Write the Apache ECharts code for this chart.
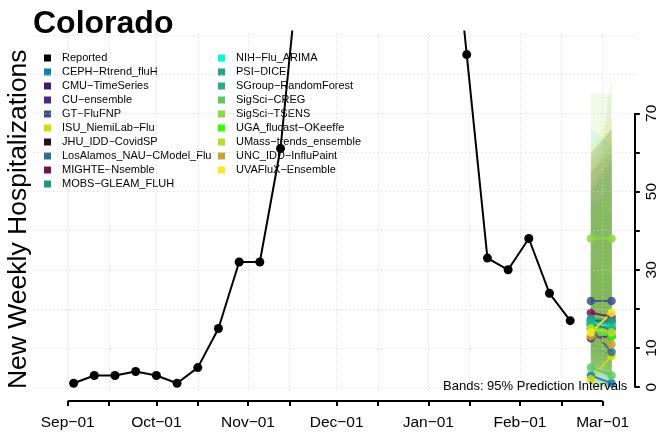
<!DOCTYPE html>
<html><head><meta charset="utf-8">
<script src="https://cdn.jsdelivr.net/npm/echarts@6/dist/echarts.min.js"></script>
<style>html,body{margin:0;padding:0;background:#fff}#c{width:656px;height:435px}</style>
</head><body><div id="c"></div>
<script>
// ---------- data ----------
const reportedDates = ['2022-09-03','2022-09-10','2022-09-17','2022-09-24','2022-10-01','2022-10-08','2022-10-15','2022-10-22','2022-10-29','2022-11-05','2022-11-12','2022-11-19','2022-11-26','2022-12-03','2022-12-10','2022-12-17','2022-12-24','2022-12-31','2023-01-07','2023-01-14','2023-01-21','2023-01-28','2023-02-04','2023-02-11','2023-02-18'];
const reportedValues = [1,3,3,4,3,1,5,15,32,32,61,114,190,260,290,270,230,190,137,85,33,30,38,24,17];

const forecastDates = ['2023-02-25','2023-03-04'];
const models = ['CEPH-Rtrend_fluH','CMU-TimeSeries','CU-ensemble','GT-FluFNP','ISU_NiemiLab-Flu','JHU_IDD-CovidSP','LosAlamos_NAU-CModel_Flu','MIGHTE-Nsemble','MOBS-GLEAM_FLUH','NIH-Flu_ARIMA','PSI-DICE','SGroup-RandomForest','SigSci-CREG','SigSci-TSENS','UGA_flucast-OKeeffe','UMass-trends_ensemble','UNC_IDD-InfluPaint','UVAFluX-Ensemble'];
const modelColors = ['#0B7CB5','#4C1772','#482A7E','#3E4C8A','#D2DD00','#2B0D26','#2F6C8E','#7A0F5C','#1F968B','#00FFCC','#20A386','#29AF7F','#5EC962','#8BD646','#33FF00','#B5DE2B','#C5A62A','#FDE725'];
const pointH1 = [3,17,12.5,22,2,16,15,19,17,16.5,17.5,16,5,38,15,15,13,14];
const pointH2 = [1,17,13,22,8,15,9,18,16,15.5,17,15,3,38,13,14,11,19];
const lowerH1 = [0,7,4,10,0,5,6,9,8,2,6,6,0,12,5,6,2,4];
const upperH1 = [30,50,45,55,25,60,48,55,52,66,58,50,40,75,45,56,60,62];
const lowerH2 = [0,5,3,8,0,3,2,7,6,0,4,4,0,8,2,4,0,4];
const upperH2 = [28,58,52,62,40,66,44,60,58,62,66,56,80,75,50,64,66,70];

const xTickDates = ['2022-09-01','2022-09-15','2022-10-01','2022-10-15','2022-11-01','2022-11-15','2022-12-01','2022-12-15','2023-01-01','2023-01-15','2023-02-01','2023-02-15','2023-03-01'];
const xLabelDates = ['2022-09-01','2022-10-01','2022-11-01','2022-12-01','2023-01-01','2023-02-01','2023-03-01'];
const yTickValues = [0,10,20,30,40,50,60,70];
const yLabelValues = [0,10,30,50,70];
const yGridValues = [0,10,20,30,40,50,60,70,80,90];
const monthAbbr = ['Jan','Feb','Mar','Apr','May','Jun','Jul','Aug','Sep','Oct','Nov','Dec'];

// ---------- helpers ----------
const DAY = 86400000;
const ORIGIN = Date.UTC(2022,8,1);
function day(s){const p=s.split('-').map(Number);return Math.round((Date.UTC(p[0],p[1]-1,p[2])-ORIGIN)/DAY);}
function dayLabel(v){const d=new Date(ORIGIN+Math.round(v)*DAY);return monthAbbr[d.getUTCMonth()]+'\u2212'+String(d.getUTCDate()).padStart(2,'0');}
function rgba(hex,a){const n=parseInt(hex.slice(1),16);return 'rgba('+((n>>16)&255)+','+((n>>8)&255)+','+(n&255)+','+a+')';}
const MINUS='\u2212';

const xMin = day('2022-09-01') - 11.64;
const xMax = day('2023-03-01') + 10.69;
const yMin = -3.53, yMax = 90.9;
const axisY = yMin;
const t1 = day(forecastDates[0]), t2 = day(forecastDates[1]);

const chart = echarts.init(document.getElementById('c'), null, {renderer:'canvas'});

const bandData = models.map((m,i)=>[t1, lowerH1[i], upperH1[i], t2, lowerH2[i], upperH2[i], i]);

const series = [];
series.push({
  type:'line', name:'_grid', data:[], z:1, silent:true, clip:false,
  markLine:{
    silent:true, symbol:['none','none'], animation:false, label:{show:false},
    emphasis:{disabled:true},
    lineStyle:{color:'#D3D3D3', type:[1,3], width:1},
    data: yGridValues.map(v=>({yAxis:v})).concat(
      xTickDates.map(d=>[{coord:[day(d), -0.7]},{coord:[day(d), 90.5]}]))
  }
});
series.push({
  type:'custom', name:'_bands', z:2, clip:true, silent:true,
  dimensions:['t1','lo1','hi1','t2','lo2','hi2','idx'],
  encode:{x:[0,3], y:[1,2,4,5]},
  data: bandData,
  renderItem:(params, api)=>{
    const i = api.value(6);
    const a = api.coord([api.value(0), api.value(1)]);
    const b = api.coord([api.value(3), api.value(4)]);
    const c = api.coord([api.value(3), api.value(5)]);
    const d = api.coord([api.value(0), api.value(2)]);
    return {type:'polygon', shape:{points:[a,b,c,d]}, style:{fill: rgba(modelColors[i],0.12)}};
  }
});
models.forEach((m,i)=>{
  series.push({
    type:'line', name:m, z:4,
    data:[[t1, pointH1[i]],[t2, pointH2[i]]],
    symbol:'circle', symbolSize:8.5, showSymbol:true,
    color: modelColors[i],
    lineStyle:{width:2, color: modelColors[i], opacity:0.85},
    itemStyle:{color: modelColors[i], opacity:0.85}
  });
});
series.push({
  type:'line', name:'Reported', z:5, clip:true,
  data: reportedDates.map((d,i)=>[day(d), reportedValues[i]]),
  symbol:'circle', symbolSize:9, showSymbol:true, showAllSymbol:true,
  color:'#000',
  lineStyle:{width:2, color:'#000'},
  itemStyle:{color:'#000'}
});
series.push({
  type:'line', name:'_axes', data:[], z:6, silent:true, clip:false,
  markLine:{
    silent:true, symbol:['none','none'], animation:false, label:{show:false},
    emphasis:{disabled:true},
    lineStyle:{color:'#000', type:'solid', width:2},
    data:[
      [{coord:[day(xTickDates[0]), axisY]},{coord:[day(xTickDates[xTickDates.length-1]), axisY]}],
      [{coord:[xMax, yTickValues[0]]},{coord:[xMax, yTickValues[yTickValues.length-1]]}]
    ]
  }
});

function legendItems(names){
  return names.map(n=>{
    const i = models.indexOf(n);
    return {name:n, icon:'rect', itemStyle:{color: i<0 ? '#000' : modelColors[i], opacity:1, borderWidth:0}};
  });
}

const legendCommon = {
  orient:'vertical', padding:0, itemGap:0, itemWidth:7, itemHeight:7, icon:'rect',
  itemStyle:{opacity:1, borderWidth:0},
  lineStyle:{width:0, opacity:0},
  textStyle:{fontSize:11, color:'#000', lineHeight:14, padding:[0,0,0,6], fontFamily:'Liberation Sans'},
  formatter: n => n.replace(/-/g, MINUS),
  selectedMode:false
};

const option = {
  animation:false,
  backgroundColor:'#fff',
  textStyle:{fontFamily:'Liberation Sans'},
  title:[
    {text:'Colorado', left:33, top:8.5, padding:0,
     textStyle:{fontSize:32, fontWeight:'bold', color:'#000', lineHeight:32, fontFamily:'Liberation Sans'}},
    {text:'Bands: 95% Prediction Intervals', right:28.7, top:380, padding:0, z:10,
     textStyle:{fontSize:13, fontWeight:'normal', color:'#000', lineHeight:13, fontFamily:'Liberation Sans'}}
  ],
  legend:[
    Object.assign({left:44, top:51, data:legendItems(['Reported'].concat(models.slice(0,9)))}, legendCommon),
    Object.assign({left:218, top:51, data:legendItems(models.slice(9))}, legendCommon)
  ],
  grid:{left:33.3, right:21.7, top:31.5, bottom:34, containLabel:false, outerBoundsMode:'none'},
  xAxis:{
    type:'value', min:xMin, max:xMax,
    axisLine:{show:false, onZero:false},
    splitLine:{show:false},
    axisTick:{show:true, customValues: xTickDates.map(day), length:5, lineStyle:{color:'#000', width:2}},
    axisLabel:{show:true, customValues: xLabelDates.map(day), margin:14, fontSize:15.5, lineHeight:16, color:'#000',
      fontFamily:'Liberation Sans', formatter: v => dayLabel(v)}
  },
  yAxis:[
    {type:'value', position:'right', min:yMin, max:yMax,
     axisLine:{show:false, onZero:false}, splitLine:{show:false},
     axisTick:{show:true, customValues:yTickValues, length:5.5, lineStyle:{color:'#000', width:2}},
     axisLabel:{show:true, customValues:yLabelValues, rotate:90, margin:9, fontSize:15.5, lineHeight:16, color:'#000', fontFamily:'Liberation Sans'}
    },
    {type:'value', position:'left', min:0, max:1,
     axisLine:{show:false, onZero:false}, axisTick:{show:false}, axisLabel:{show:false}, splitLine:{show:false},
     name:'New Weekly Hospitalizations', nameLocation:'middle', nameRotate:90, nameGap:1.5,
     nameTextStyle:{fontSize:26.5, color:'#000', lineHeight:26, fontFamily:'Liberation Sans', padding:[0,6,0,0]}
    }
  ],
  series: series
};
chart.setOption(option);
</script>
</body></html>
